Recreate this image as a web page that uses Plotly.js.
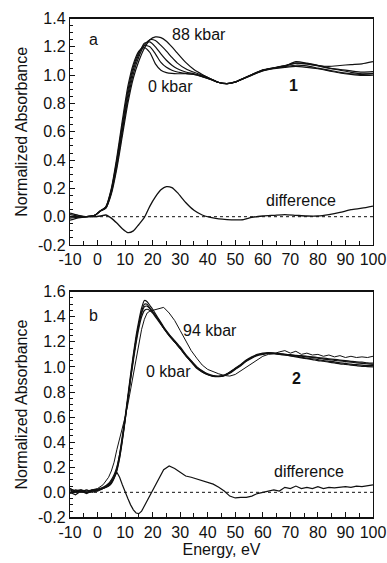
<!DOCTYPE html>
<html>
<head>
<meta charset="utf-8">
<script src="https://cdn.plot.ly/plotly-3.0.1.min.js"></script>
<style>html,body{margin:0;padding:0;background:#fff;}#chart{width:387px;height:563px;}</style>
</head>
<body>
<div id="chart"></div>
<script>
// ---------- Panel a data ----------
const energyA = [-10,-7,-4,-1,1,3,5,7,9,11,13,15,17,19,21,23,25,27,29,32,35,38,41,44,47,50,53,56,60,64,68,72,76,80,84,88,92,96,100];
const a0kbar = [-0.025,-0.008,0.0,0.01,0.04,0.07,0.2,0.42,0.68,0.92,1.08,1.17,1.195,1.16,1.08,1.035,1.018,1.012,1.01,1.01,1.005,0.99,0.97,0.948,0.94,0.95,0.975,1.0,1.03,1.045,1.055,1.062,1.055,1.045,1.03,1.015,1.005,0.998,1.0];
const aP1 = [-0.01,-0.004,0.0,0.01,0.04,0.07,0.19,0.4,0.65,0.89,1.06,1.16,1.21,1.2,1.15,1.09,1.055,1.035,1.022,1.012,1.005,0.99,0.97,0.948,0.94,0.95,0.975,1.0,1.032,1.05,1.06,1.07,1.065,1.05,1.035,1.02,1.01,1.005,1.013];
const aP2 = [0.0,0.0,0.0,0.01,0.04,0.065,0.18,0.38,0.62,0.86,1.04,1.15,1.225,1.235,1.2,1.15,1.105,1.07,1.045,1.022,1.01,0.995,0.972,0.948,0.94,0.952,0.977,1.003,1.035,1.052,1.065,1.085,1.08,1.065,1.05,1.04,1.03,1.022,1.025];
const aP3 = [0.015,0.005,0.0,0.01,0.04,0.06,0.17,0.36,0.6,0.83,1.01,1.13,1.21,1.25,1.245,1.21,1.17,1.125,1.085,1.045,1.02,1.0,0.975,0.948,0.94,0.952,0.977,1.003,1.035,1.05,1.065,1.095,1.085,1.07,1.05,1.035,1.02,1.01,1.01];
const a88kbar = [0.025,0.01,0.0,0.01,0.04,0.06,0.16,0.34,0.57,0.8,0.98,1.1,1.19,1.25,1.27,1.265,1.24,1.2,1.155,1.09,1.04,1.005,0.975,0.948,0.94,0.952,0.978,1.005,1.037,1.052,1.068,1.085,1.08,1.068,1.062,1.068,1.075,1.08,1.095];
const aDiff = [0.0,0.0,0.0,0.0,0.005,0.012,-0.01,-0.045,-0.085,-0.112,-0.1,-0.055,-0.005,0.075,0.14,0.19,0.212,0.205,0.17,0.1,0.045,0.012,-0.005,-0.015,-0.02,-0.022,-0.02,-0.005,0.005,0.01,0.015,0.01,0.005,0.005,0.015,0.03,0.05,0.06,0.075];

// ---------- Panel b data ----------
const energyB = [-10,-8,-6,-4,-2,0,2,
  4,5,6,7,8,9,10,11,12,13,14,15,16,17,18,19,20,
  22,24,26,28,30,32,34,36,38,40,
  42,44,46,48,50,52,54,56,58,60,
  62,64,66,68,70,72,74,76,78,80,
  82,84,86,88,90,92,94,96,98,100];
const b0kbar = [0.02,0.0,0.01,0.0,0.01,0.01,0.03,
  0.05,0.08,0.12,0.19,0.3,0.45,0.6,0.77,0.94,1.1,1.25,1.37,1.47,1.53,1.52,1.49,1.46,
  1.39,1.32,1.26,1.21,1.16,1.1,1.05,1.0,0.97,0.945,
  0.93,0.925,0.93,0.95,0.98,1.01,1.045,1.07,1.09,1.1,
  1.11,1.11,1.105,1.1,1.095,1.09,1.085,1.08,1.075,1.07,
  1.062,1.058,1.052,1.048,1.043,1.038,1.033,1.028,1.024,1.02];
const bP1 = [-0.01,0.01,0.0,0.02,0.0,0.015,0.03,
  0.05,0.07,0.11,0.17,0.27,0.41,0.57,0.74,0.91,1.07,1.22,1.34,1.44,1.5,1.5,1.47,1.44,
  1.38,1.31,1.25,1.2,1.15,1.09,1.04,0.99,0.96,0.94,
  0.925,0.922,0.93,0.955,0.985,1.015,1.05,1.075,1.095,1.105,
  1.108,1.105,1.1,1.095,1.088,1.08,1.072,1.065,1.058,1.05,
  1.045,1.038,1.032,1.025,1.02,1.015,1.01,1.005,1.003,1.0];
const bP2 = [0.03,0.01,0.02,-0.005,0.02,0.02,0.035,
  0.06,0.08,0.12,0.18,0.28,0.42,0.58,0.75,0.92,1.08,1.22,1.34,1.43,1.48,1.485,1.465,1.44,
  1.38,1.31,1.255,1.2,1.15,1.095,1.045,1.0,0.965,0.94,
  0.928,0.925,0.935,0.96,0.99,1.02,1.055,1.08,1.1,1.11,
  1.115,1.11,1.108,1.1,1.098,1.092,1.09,1.085,1.08,1.075,
  1.07,1.065,1.06,1.055,1.05,1.045,1.04,1.038,1.033,1.03];
const bP3 = [0.0,0.02,0.01,0.01,0.015,0.025,0.04,
  0.07,0.1,0.14,0.2,0.3,0.43,0.58,0.74,0.9,1.05,1.19,1.31,1.4,1.45,1.46,1.45,1.43,
  1.37,1.31,1.25,1.2,1.145,1.09,1.04,0.995,0.96,0.938,
  0.925,0.925,0.933,0.955,0.985,1.015,1.05,1.075,1.095,1.105,
  1.11,1.108,1.1,1.095,1.09,1.085,1.078,1.07,1.065,1.058,
  1.05,1.045,1.04,1.032,1.028,1.022,1.018,1.014,1.01,1.01];
const b94kbar = [0.03,0.01,0.02,0.01,0.02,0.03,0.06,
  0.12,0.17,0.24,0.34,0.42,0.5,0.6,0.7,0.82,0.93,1.05,1.18,1.3,1.38,1.43,1.445,1.45,
  1.46,1.475,1.43,1.37,1.29,1.21,1.13,1.07,1.015,0.98,
  0.96,0.945,0.932,0.927,0.94,0.97,1.0,1.03,1.06,1.085,
  1.1,1.105,1.12,1.13,1.11,1.125,1.1,1.11,1.095,1.1,
  1.085,1.095,1.08,1.09,1.075,1.085,1.075,1.08,1.075,1.085];
const bDiff = [0.0,-0.02,0.01,-0.01,0.01,0.02,0.03,
  0.06,0.09,0.12,0.16,0.12,0.06,0.0,-0.05,-0.1,-0.14,-0.165,-0.17,-0.15,-0.11,-0.07,-0.03,0.01,
  0.1,0.18,0.21,0.19,0.16,0.13,0.12,0.105,0.09,0.08,
  0.065,0.04,0.01,-0.03,-0.045,-0.04,-0.04,-0.03,-0.01,0.0,
  0.01,0.02,0.01,0.04,0.03,0.05,0.03,0.04,0.03,0.045,
  0.03,0.04,0.035,0.04,0.045,0.04,0.05,0.045,0.055,0.06];

// ---------- Tick labels ----------
const xTickVals = [-10,0,10,20,30,40,50,60,70,80,90,100];
const xTickText = ["-10","0","10","20","30","40","50","60","70","80","90","100"];
const yTickValsA = [-0.2,0,0.2,0.4,0.6,0.8,1.0,1.2,1.4];
const yTickTextA = ["-0.2","0.0","0.2","0.4","0.6","0.8","1.0","1.2","1.4"];
const yTickValsB = [-0.2,0,0.2,0.4,0.6,0.8,1.0,1.2,1.4,1.6];
const yTickTextB = ["-0.2","0.0","0.2","0.4","0.6","0.8","1.0","1.2","1.4","1.6"];

const FONT = "'Liberation Sans', Arial, Helvetica, sans-serif";
const FS = 16;

function curve(x, y, xa, ya, shape, w) {
  return {x: x, y: y, xaxis: xa, yaxis: ya, type: 'scatter', mode: 'lines',
    line: {color: '#111', width: w || 1.2, shape: shape || 'spline', smoothing: 0.6},
    hoverinfo: 'skip'};
}

const traces = [
  curve(energyA, a0kbar, 'x', 'y'),
  curve(energyA, aP1, 'x', 'y'),
  curve(energyA, aP2, 'x', 'y'),
  curve(energyA, aP3, 'x', 'y'),
  curve(energyA, a88kbar, 'x', 'y'),
  curve(energyA, aDiff, 'x', 'y', 'spline', 1.3),
  curve(energyB, b0kbar, 'x2', 'y2'),
  curve(energyB, bP1, 'x2', 'y2'),
  curve(energyB, bP2, 'x2', 'y2'),
  curve(energyB, bP3, 'x2', 'y2'),
  curve(energyB, b94kbar, 'x2', 'y2', 'linear', 1.0),
  curve(energyB, bDiff, 'x2', 'y2', 'linear', 1.2)
];

function xAxis(anchor, title) {
  const ax = {domain: [0.1809, 0.9638], range: [-10, 100], anchor: anchor,
    tickmode: 'array', tickvals: xTickVals, ticktext: xTickText,
    ticks: 'inside', ticklen: 5, tickwidth: 1, tickcolor: '#111',
    minor: {dtick: 5, tick0: 0, ticks: 'inside', ticklen: 4, tickcolor: '#111', showgrid: false},
    showline: true, mirror: true, linecolor: '#111', linewidth: 1.2,
    showgrid: false, zeroline: false,
    tickfont: {family: FONT, size: FS, color: '#111'}};
  if (title) ax.title = {text: title, font: {family: FONT, size: FS, color: '#111'}, standoff: 1};
  return ax;
}
function yAxis(anchor, domain, range, tv, tt) {
  return {domain: domain, range: range, anchor: anchor,
    tickmode: 'array', tickvals: tv, ticktext: tt,
    ticks: 'inside', ticklen: 5, tickwidth: 1, tickcolor: '#111',
    minor: {dtick: 0.05, tick0: 0, ticks: 'inside', ticklen: 3, tickcolor: '#111', showgrid: false},
    showline: true, mirror: true, linecolor: '#111', linewidth: 1.2,
    showgrid: false, zeroline: false,
    tickfont: {family: FONT, size: FS, color: '#111'},
    title: {text: 'Normalized Absorbance', font: {family: FONT, size: FS, color: '#111'}, standoff: 6}};
}

function label(text, x, y, xr, yr, bold) {
  return {text: bold ? '<b>' + text + '</b>' : text, x: x, y: y, xref: xr, yref: yr,
    showarrow: false, font: {family: FONT, size: FS, color: '#111'}};
}

const layout = {
  width: 387, height: 563,
  margin: {l: 0, r: 0, t: 0, b: 0},
  paper_bgcolor: '#fff', plot_bgcolor: '#fff',
  showlegend: false, hovermode: false,
  xaxis: xAxis('y', null),
  yaxis: yAxis('x', [0.5648, 0.9671], [-0.2, 1.4], yTickValsA, yTickTextA),
  xaxis2: xAxis('y2', 'Energy, eV'),
  yaxis2: yAxis('x2', [0.0810, 0.4819], [-0.2, 1.6], yTickValsB, yTickTextB),
  shapes: [
    {type: 'line', xref: 'x domain', yref: 'y', x0: 0, x1: 1, y0: 0, y1: 0,
     line: {color: '#111', width: 1, dash: 'dot'}},
    {type: 'line', xref: 'x2 domain', yref: 'y2', x0: 0, x1: 1, y0: 0, y1: 0,
     line: {color: '#111', width: 1, dash: 'dot'}}
  ],
  annotations: [
    label('a', -1.6, 1.25, 'x', 'y'),
    label('88 kbar', 36.9, 1.284, 'x', 'y'),
    label('0 kbar', 26.5, 0.917, 'x', 'y'),
    label('1', 71.1, 0.93, 'x', 'y', true),
    label('difference', 73.9, 0.118, 'x', 'y'),
    label('b', -1.5, 1.414, 'x2', 'y2'),
    label('94 kbar', 40.9, 1.294, 'x2', 'y2'),
    label('0 kbar', 25.7, 0.967, 'x2', 'y2'),
    label('2', 72.2, 0.909, 'x2', 'y2', true),
    label('difference', 76.7, 0.164, 'x2', 'y2')
  ]
};

Plotly.newPlot('chart', traces, layout, {displayModeBar: false, staticPlot: true});
</script>
</body>
</html>
